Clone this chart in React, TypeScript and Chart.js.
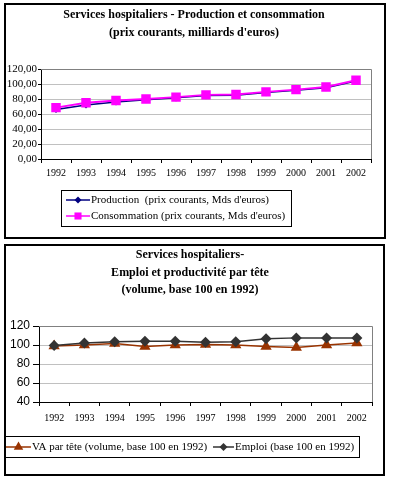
import React, { useEffect, useRef } from 'react';
import { Chart, registerables } from 'chart.js';

Chart.register(...registerables);

// ---------- DATA ----------
const years = ['1992', '1993', '1994', '1995', '1996', '1997', '1998', '1999', '2000', '2001', '2002'];

const production = [66, 72, 76, 79, 81.5, 84.5, 85, 88.5, 91.5, 95, 104];
const consommation = [68.5, 75, 78, 80, 82.5, 85.5, 86, 89.5, 92.5, 96, 105];

const vaParTete = [99, 100, 101.5, 98.5, 100, 100.5, 100, 98.5, 97.5, 100, 102];
const emploi = [99.5, 102, 103.5, 104, 104, 103, 103.5, 106.5, 107.5, 107.5, 107.5];

const topTitle = ['Services hospitaliers - Production et consommation', "(prix courants, milliards d'euros)"];
const bottomTitle = ['Services hospitaliers-', 'Emploi et productivité par tête', '(volume, base 100 en 1992)'];
const topLegend = ["Production  (prix courants, Mds d'euros)", "Consommation (prix courants, Mds d'euros)"];
const bottomLegend = ['VA par tête (volume, base 100 en 1992)', 'Emploi (base 100 en 1992)'];

const SERIF = '"Liberation Serif", "Times New Roman", serif';
const SANS = '"Liberation Sans", Arial, sans-serif';

function drawMarker(ctx: CanvasRenderingContext2D, style: string, x: number, y: number, r: number, color: string) {
  ctx.save();
  ctx.fillStyle = color;
  ctx.beginPath();
  if (style === 'rect') {
    const s = r * Math.SQRT1_2;
    ctx.rect(x - s, y - s, 2 * s, 2 * s);
  } else if (style === 'rectRot') {
    ctx.moveTo(x - r, y);
    ctx.lineTo(x, y - r);
    ctx.lineTo(x + r, y);
    ctx.lineTo(x, y + r);
    ctx.closePath();
  } else if (style === 'triangle') {
    ctx.moveTo(x, y - r);
    ctx.lineTo(x + r * 0.866, y + r / 2);
    ctx.lineTo(x - r * 0.866, y + r / 2);
    ctx.closePath();
  }
  ctx.fill();
  ctx.restore();
}

type LegendItem = { text: string; color: string; style: string; r: number; x0: number; x1: number; tx: number; y: number };

function makeDecor(opts: {
  frame: [number, number, number, number];
  titles: string[];
  titleX: number;
  titleYs: number[];
  legendBox: [number, number, number, number];
  items: LegendItem[];
}) {
  return {
    id: 'decor',
    beforeDraw(chart: any) {
      const ctx = chart.ctx as CanvasRenderingContext2D;
      ctx.save();
      ctx.fillStyle = '#ffffff';
      ctx.fillRect(0, 0, chart.width, chart.height);
      ctx.restore();
    },
    beforeDatasetsDraw(chart: any) {
      const ctx = chart.ctx as CanvasRenderingContext2D;
      const a = chart.chartArea;
      ctx.save();
      ctx.strokeStyle = '#808080';
      ctx.lineWidth = 1;
      ctx.beginPath();
      ctx.moveTo(a.left, Math.round(a.top) + 0.5);
      ctx.lineTo(Math.round(a.right) + 0.5, Math.round(a.top) + 0.5);
      ctx.lineTo(Math.round(a.right) + 0.5, a.bottom);
      ctx.stroke();
      ctx.restore();
    },
    afterDraw(chart: any) {
      const ctx = chart.ctx as CanvasRenderingContext2D;
      ctx.save();
      ctx.strokeStyle = '#000';
      ctx.lineWidth = 2;
      const [fx, fy, fw, fh] = opts.frame;
      ctx.strokeRect(fx, fy, fw, fh);
      ctx.fillStyle = '#000';
      ctx.font = `bold 12px ${SERIF}`;
      ctx.textAlign = 'center';
      ctx.textBaseline = 'middle';
      opts.titles.forEach((t, i) => ctx.fillText(t, opts.titleX, opts.titleYs[i]));
      const [lx, ly, lw, lh] = opts.legendBox;
      ctx.lineWidth = 1;
      ctx.strokeRect(lx + 0.5, ly + 0.5, lw, lh);
      ctx.font = `11px ${SERIF}`;
      ctx.textAlign = 'left';
      opts.items.forEach((it) => {
        ctx.strokeStyle = it.color;
        ctx.lineWidth = 1.5;
        ctx.beginPath();
        ctx.moveTo(it.x0, it.y);
        ctx.lineTo(it.x1, it.y);
        ctx.stroke();
        drawMarker(ctx, it.style, (it.x0 + it.x1) / 2, it.y, it.r, it.color);
        ctx.fillStyle = '#000';
        ctx.fillText(it.text, it.tx, it.y + 0.5);
      });
      ctx.restore();
    },
  };
}

function TopChart() {
  const ref = useRef<HTMLCanvasElement | null>(null);
  useEffect(() => {
    if (!ref.current) return;
    const chart = new Chart(ref.current, {
      type: 'line',
      data: {
        labels: years,
        datasets: [
          {
            label: topLegend[0],
            data: production,
            borderColor: '#000080',
            backgroundColor: '#000080',
            borderWidth: 1.5,
            pointStyle: 'rectRot',
            pointRadius: 3.5,
            pointBorderWidth: 0,
            pointBackgroundColor: '#000080',
            tension: 0,
            order: 1,
          },
          {
            label: topLegend[1],
            data: consommation,
            borderColor: '#ff00ff',
            backgroundColor: '#ff00ff',
            borderWidth: 2,
            pointStyle: 'rect',
            pointRadius: 6.7,
            pointBorderWidth: 0,
            pointBackgroundColor: '#ff00ff',
            tension: 0,
            order: 0,
          },
        ],
      },
      options: {
        responsive: false,
        animation: false,
        events: [],
        layout: { padding: { left: 0, right: 22, top: 69, bottom: 52 } },
        plugins: { legend: { display: false }, title: { display: false }, tooltip: { enabled: false } },
        scales: {
          x: {
            type: 'category',
            offset: true,
            grid: { offset: true, drawOnChartArea: false, color: '#000', tickColor: '#000', tickLength: 4 },
            border: { color: '#000', width: 1 },
            ticks: { color: '#000', font: { family: SERIF, size: 10 }, padding: 4, maxRotation: 0, autoSkip: false },
            afterFit: (s: any) => { s.height = 30; },
          },
          y: {
            min: 0,
            max: 120,
            ticks: {
              stepSize: 20,
              autoSkip: false,
              color: '#000',
              font: { family: SERIF, size: 11 },
              padding: 1,
              callback: (v: any) => Number(v).toFixed(2).replace('.', ','),
            },
            grid: { color: '#c0c0c0', tickColor: '#000', tickLength: 3 },
            border: { color: '#000', width: 1 },
            afterFit: (s: any) => { s.width = 41; },
          },
        },
      },
      plugins: [
        makeDecor({
          frame: [5, 4, 380, 234],
          titles: topTitle,
          titleX: 194,
          titleYs: [15, 33],
          legendBox: [61, 190, 230, 36],
          items: [
            { text: topLegend[0], color: '#000080', style: 'rectRot', r: 3.5, x0: 66, x1: 90, tx: 91, y: 200 },
            { text: topLegend[1], color: '#ff00ff', style: 'rect', r: 5, x0: 66, x1: 90, tx: 91, y: 216 },
          ],
        }),
      ],
    } as any);
    return () => chart.destroy();
  }, []);
  return <canvas ref={ref} width={393} height={241} style={{ position: 'absolute', left: 0, top: 0, width: 393, height: 241 }} />;
}

function BottomChart() {
  const ref = useRef<HTMLCanvasElement | null>(null);
  useEffect(() => {
    if (!ref.current) return;
    const chart = new Chart(ref.current, {
      type: 'line',
      data: {
        labels: years,
        datasets: [
          {
            label: bottomLegend[0],
            data: vaParTete,
            borderColor: '#993300',
            backgroundColor: '#993300',
            borderWidth: 1.5,
            pointStyle: 'triangle',
            pointRadius: 6.5,
            pointBorderWidth: 0,
            pointBackgroundColor: '#993300',
            tension: 0,
            order: 1,
          },
          {
            label: bottomLegend[1],
            data: emploi,
            borderColor: '#333333',
            backgroundColor: '#333333',
            borderWidth: 1.5,
            pointStyle: 'rectRot',
            pointRadius: 5.5,
            pointBorderWidth: 0,
            pointBackgroundColor: '#333333',
            tension: 0,
            order: 0,
          },
        ],
      },
      options: {
        responsive: false,
        animation: false,
        events: [],
        layout: { padding: { left: 0, right: 21, top: 85, bottom: 49 } },
        plugins: { legend: { display: false }, title: { display: false }, tooltip: { enabled: false } },
        scales: {
          x: {
            type: 'category',
            offset: true,
            grid: { offset: true, drawOnChartArea: false, color: '#000', tickColor: '#000', tickLength: 4 },
            border: { color: '#000', width: 1 },
            ticks: { color: '#000', font: { family: SERIF, size: 10 }, padding: 6, maxRotation: 0, autoSkip: false },
            afterFit: (s: any) => { s.height = 30; },
          },
          y: {
            min: 40,
            max: 120,
            ticks: { stepSize: 20, autoSkip: false, color: '#000', font: { family: SANS, size: 12 }, padding: 3 },
            grid: { color: '#c0c0c0', tickColor: '#000', tickLength: 6 },
            border: { color: '#000', width: 1 },
            afterFit: (s: any) => { s.width = 39; },
          },
        },
      },
      plugins: [
        makeDecor({
          frame: [5, 4, 379, 230],
          titles: bottomTitle,
          titleX: 190,
          titleYs: [14, 32, 49],
          legendBox: [5, 195, 354, 21],
          items: [
            { text: bottomLegend[0], color: '#993300', style: 'triangle', r: 5.5, x0: 6, x1: 31, tx: 32, y: 206 },
            { text: bottomLegend[1], color: '#333333', style: 'rectRot', r: 4, x0: 213, x1: 234, tx: 235, y: 206 },
          ],
        }),
      ],
    } as any);
    return () => chart.destroy();
  }, []);
  return <canvas ref={ref} width={393} height={240} style={{ position: 'absolute', left: 0, top: 241, width: 393, height: 240 }} />;
}

export default function App() {
  return (
    <div style={{ position: 'absolute', left: 0, top: 0, width: 393, height: 481, background: '#fff' }}>
      <TopChart />
      <BottomChart />
    </div>
  );
}
